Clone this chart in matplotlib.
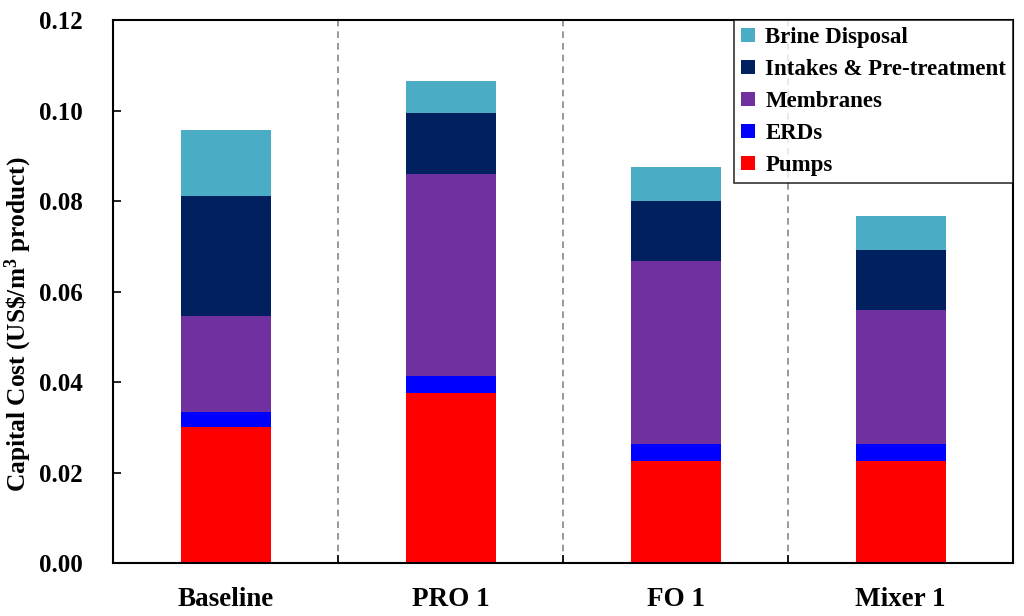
import matplotlib
matplotlib.use("Agg")
import matplotlib.pyplot as plt
import numpy as np

plt.rcParams['font.family'] = ['Liberation Serif', 'DejaVu Serif']
plt.rcParams['font.weight'] = 'bold'
plt.rcParams['mathtext.default'] = 'regular'

# data (US$/m3 product)
categories = ["Baseline", "PRO 1", "FO 1", "Mixer 1"]
pumps     = [0.0301, 0.0376, 0.0225, 0.0225]
erds      = [0.0033, 0.0037, 0.0038, 0.0038]
membranes = [0.0212, 0.0447, 0.0404, 0.0296]
intakes   = [0.0265, 0.0134, 0.0133, 0.0133]
brine     = [0.0146, 0.0071, 0.0075, 0.0075]

series = [
    ("Pumps", pumps, "#FF0000"),
    ("ERDs", erds, "#0000FF"),
    ("Membranes", membranes, "#7030A0"),
    ("Intakes & Pre-treatment", intakes, "#002060"),
    ("Brine Disposal", brine, "#4BACC6"),
]

fig = plt.figure(figsize=(10.24, 6.16), dpi=100)
ax = fig.add_axes([0.1104, 0.086, 0.879, 0.8815])

x = np.arange(len(categories))
bottom = np.zeros(len(categories))
handles = []
for name, vals, color in series:
    b = ax.bar(x, vals, width=0.4, bottom=bottom, color=color, label=name)
    handles.append(b)
    bottom += np.array(vals)

# dashed separators between groups
for sep in [0.5, 1.5, 2.5]:
    ax.axvline(sep, color="#888888", linestyle=(0, (4, 3)), linewidth=1.2, zorder=0)

ax.set_xlim(-0.5, 3.5)
ax.set_ylim(0, 0.12)
ax.set_yticks(np.arange(0, 0.121, 0.02))
ax.set_yticklabels([f"{v:.2f}" for v in np.arange(0, 0.121, 0.02)])
ax.set_xticks(x)
ax.set_xticklabels(categories)
ax.tick_params(axis="x", length=0, labelsize=19.5, pad=17)
ax.tick_params(axis="y", direction="in", length=6, width=1.2, labelsize=18, pad=22)
ax.set_xticks([0.5, 1.5, 2.5], minor=True)
ax.tick_params(axis="x", which="minor", direction="in", length=6, width=1.2)

for s in ax.spines.values():
    s.set_linewidth(1.5)

ax.set_ylabel(r"Capital Cost (US\$/m$^3$ product)", fontsize=18.3, fontweight="bold")
ax.yaxis.set_label_coords(-0.088, 0.44)

leg = ax.legend(handles[::-1], [s[0] for s in series][::-1], loc="upper right",
                fontsize=16.5, frameon=True, fancybox=False, edgecolor="black",
                handlelength=0.6, handleheight=0.6, handletextpad=0.45,
                borderaxespad=0, labelspacing=0.48, borderpad=0.3)
leg.get_frame().set_linewidth(1.2)

fig.savefig("out.png", dpi=100)
